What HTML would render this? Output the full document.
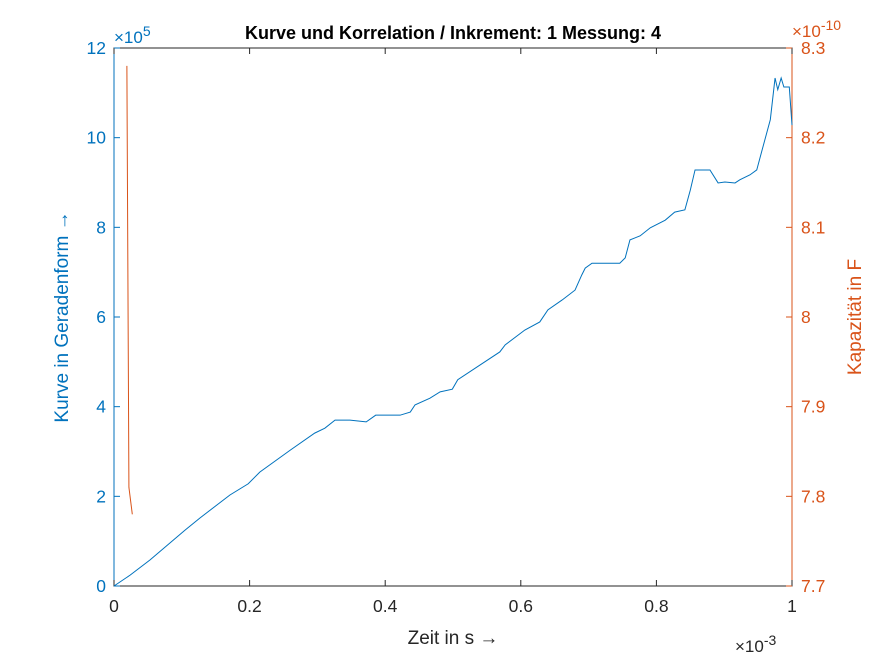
<!DOCTYPE html>
<html><head><meta charset="utf-8"><style>
body{margin:0;background:#fff;}
svg text{font-family:"Liberation Sans",Arial,sans-serif;}
</style></head><body>
<svg id="chart" width="875" height="656" xmlns="http://www.w3.org/2000/svg">
<rect width="875" height="656" fill="#fff"/>
<g id="axes"></g>
<g id="series"></g>
<text x="453" y="39" text-anchor="middle" font-size="18" font-weight="bold" fill="#000">Kurve und Korrelation / Inkrement: 1 Messung: 4</text>
<text x="453" y="644" text-anchor="middle" font-size="19" fill="#262626">Zeit in s →</text>
<text transform="translate(68,317) rotate(-90)" text-anchor="middle" font-size="19" fill="#0072BD">Kurve in Geradenform →</text>
<text transform="translate(861,317) rotate(-90)" text-anchor="middle" font-size="19" fill="#D95319">Kapazität in F</text>
<text x="735" y="652" font-size="17" fill="#262626">×10<tspan dy="-7" font-size="14">-3</tspan></text>
<text x="114" y="43" font-size="17" fill="#0072BD">×10<tspan dy="-7" font-size="14">5</tspan></text>
<text x="792" y="37" font-size="17" fill="#D95319">×10<tspan dy="-7" font-size="14">-10</tspan></text>
</svg>
<script>
const xTicks=[0,0.2,0.4,0.6,0.8,1];
const xTickLabels=["0","0.2","0.4","0.6","0.8","1"];
const yLeftTicks=[0,2,4,6,8,10,12];
const yRightTicks=[7.7,7.8,7.9,8.0,8.1,8.2,8.3];
const yRightLabels=["7.7","7.8","7.9","8","8.1","8.2","8.3"];
const curveX=[0,.024,.053,.105,.127,.171,.198,.215,.26,.296,.311,.326,.348,.372,.386,.422,.437,.444,.466,.481,.499,.507,.54,.569,.577,.606,.628,.640,.661,.680,.690,.695,.705,.746,.754,.761,.776,.791,.813,.827,.842,.850,.857,.879,.891,.901,.916,.923,.938,.948,.956,.968,.975,.979,.984,.988,.996,1.0];
const curveY=[0,.245,.58,1.25,1.52,2.03,2.28,2.54,3.03,3.41,3.52,3.70,3.70,3.66,3.81,3.81,3.88,4.04,4.19,4.33,4.39,4.6,4.93,5.22,5.38,5.71,5.89,6.16,6.38,6.60,6.94,7.09,7.2,7.2,7.32,7.72,7.81,7.99,8.16,8.34,8.39,8.83,9.28,9.28,8.99,9.01,8.99,9.06,9.17,9.28,9.73,10.4,11.33,11.07,11.33,11.13,11.13,10.28];
const capX=[.019,.022,.027];
const capY=[8.28,7.81,7.78];

const L=114,R=792,T=48,B=586;
const sx=v=>L+(v-0)/(1-0)*(R-L);
const syL=v=>B-(v-0)/12*(B-T);
const syR=v=>B-(v-7.7)/0.6*(B-T);
const NS="http://www.w3.org/2000/svg";
function mk(tag,attrs,parent,txt){const e=document.createElementNS(NS,tag);for(const k in attrs)e.setAttribute(k,attrs[k]);if(txt!==undefined)e.textContent=txt;parent.appendChild(e);return e;}
const ax=document.getElementById('axes');
const bx=mk('rect',{x:L,y:T,width:R-L,height:B-T,fill:'none',stroke:'#262626','stroke-width':1},ax);


mk('line',{x1:L,y1:T,x2:L,y2:B,stroke:'#0072BD'},ax);
mk('line',{x1:R,y1:T,x2:R,y2:B,stroke:'#D95319'},ax);
xTicks.forEach((v,i)=>{const x=sx(v);
mk('line',{x1:x,y1:B,x2:x,y2:B-6,stroke:'#262626'},ax);
mk('line',{x1:x,y1:T,x2:x,y2:T+6,stroke:'#262626'},ax);
const t=mk('text',{x:x,y:B+26,'text-anchor':'middle','font-size':17.5,fill:'#262626'},ax,xTickLabels[i]);

});
yLeftTicks.forEach(v=>{const y=syL(v);
mk('line',{x1:L,y1:y,x2:L+6,y2:y,stroke:'#0072BD'},ax);
const t=mk('text',{x:L-8,y:y+6,'text-anchor':'end','font-size':17.5,fill:'#0072BD'},ax,String(v));

});
yRightTicks.forEach((v,i)=>{const y=syR(v);
mk('line',{x1:R,y1:y,x2:R-6,y2:y,stroke:'#D95319'},ax);
const t=mk('text',{x:R+9,y:y+6,'font-size':17.5,fill:'#D95319'},ax,yRightLabels[i]);

});
const sr=document.getElementById('series');
const p1=mk('polyline',{points:curveX.map((v,i)=>sx(v)+','+syL(curveY[i])).join(' '),fill:'none',stroke:'#0072BD','stroke-width':1},sr);


const p2=mk('polyline',{points:capX.map((v,i)=>sx(v)+','+syR(capY[i])).join(' '),fill:'none',stroke:'#D95319','stroke-width':1},sr);


</script>
</body></html>
